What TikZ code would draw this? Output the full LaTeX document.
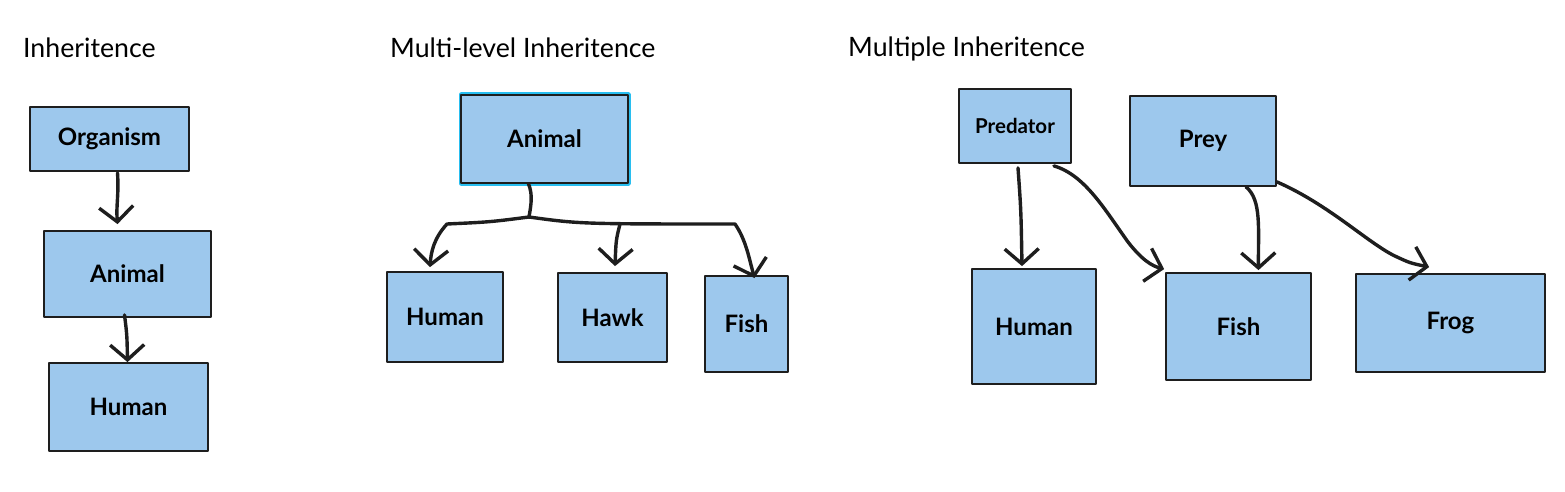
\documentclass[tikz,border=0pt]{standalone}
\usepackage{fontspec}
\setmainfont{Lato}
\usetikzlibrary{arrows.meta}
\definecolor{boxblue}{RGB}{157,200,237}
\definecolor{selcyan}{RGB}{40,190,240}
\definecolor{ink}{RGB}{30,30,30}
\tikzset{
  cls/.style={draw=ink, fill=boxblue, line width=1.8pt, inner sep=0pt,
    font=\fontsize{24}{28}\selectfont\bfseries},
  selected/.style={preaction={draw=selcyan, line width=5pt}},
  arr/.style={draw=ink, line width=3.4pt,
    -{Straight Barb[length=15pt,width=34pt,line width=3.4pt]}},
  ttl/.style={anchor=base west, inner sep=0pt, font=\fontsize{26.7}{30}\selectfont}
}
\begin{document}
\begin{tikzpicture}[x=1pt, y=-1pt, line join=round, line cap=round]
		\useasboundingbox (0,0) rectangle (1565,492);
		% single inheritence
		\node[ttl] (t1) at (23,58) {Inheritence};
		\node[cls, minimum width=159, minimum height=64] (org) at (109.5,139) {Organism};
		\node[cls, minimum width=167, minimum height=86] (ani1) at (127.5,274) {Animal};
		\node[cls, minimum width=159, minimum height=88] (hum1) at (128.5,407) {Human};
		\draw[arr] ([xshift=8pt,yshift=-1pt]org.south) .. controls (119,195) and (116,205) .. ([xshift=-10pt,yshift=6pt]ani1.north);
		\draw[arr] ([xshift=-3pt,yshift=3pt]ani1.south) .. controls (127,335) .. ([xshift=-1pt]hum1.north);
		% multi-level
		\node[ttl] (t2) at (390,58) {Multi-level Inheritence};
		\node[cls, selected, minimum width=167, minimum height=88] (ani2) at (544.5,139) {Animal};
		\node[cls, minimum width=116, minimum height=90] (hum2) at (445,317) {Human};
		\node[cls, minimum width=109, minimum height=89] (hawk) at (612.5,317.5) {Hawk};
		\node[cls, minimum width=83, minimum height=96] (fish2) at (746.5,324) {Fish};
		\coordinate (split) at (529,217);
		\coordinate (hawkfork) at (620,224);
		\draw[ink, line width=3.4pt] ([xshift=-16pt]ani2.south) .. controls (533,195) and (531,205) .. (split);
		\draw[arr] (split) .. controls (490,222) .. (447,224) .. controls (434,238) and (431,252) .. ([xshift=-15pt,yshift=4pt]hum2.north);
		\draw[arr] (split) .. controls (580,224) .. (735,224) .. controls (746,240) and (749,258) .. ([xshift=8pt,yshift=-3pt]fish2.north);
		\draw[arr] (hawkfork) .. controls (616,240) .. ([xshift=2.5pt,yshift=6pt]hawk.north);
		% multiple
		\node[ttl] (t3) at (848,57) {Multiple Inheritence};
		\node[cls, minimum width=112, minimum height=74, font=\fontsize{20.5}{24}\selectfont\bfseries] (pred) at (1015,126) {Predator};
		\node[cls, minimum width=146, minimum height=90] (prey) at (1203,141) {Prey};
		\node[cls, minimum width=124, minimum height=115] (hum3) at (1034,326.5) {Human};
		\node[cls, minimum width=145, minimum height=107] (fish3) at (1238.5,326.5) {Fish};
		\node[cls, minimum width=189, minimum height=98] (frog) at (1450.5,323) {Frog};
		\draw[arr] ([xshift=3pt,yshift=-4pt]pred.south) .. controls (1021,210) .. ([xshift=-12pt,yshift=2pt]hum3.north);
		\draw[arr] ([xshift=-18pt,yshift=-2pt]pred.south east) .. controls (1085,175) and (1105,210) .. (1128,242) .. controls (1142,260) and (1152,266) .. ([xshift=-1pt,yshift=3pt]fish3.north west);
		\draw[arr] ([xshift=43pt]prey.south) .. controls (1262,200) and (1258,230) .. ([xshift=20pt,yshift=2pt]fish3.north);
		\draw[arr] ([yshift=5pt]prey.south east) .. controls (1330,205) and (1370,245) .. (1397,257) .. controls (1410,263) .. ([xshift=74pt,yshift=6pt]frog.north west);
\end{tikzpicture}
\end{document}
